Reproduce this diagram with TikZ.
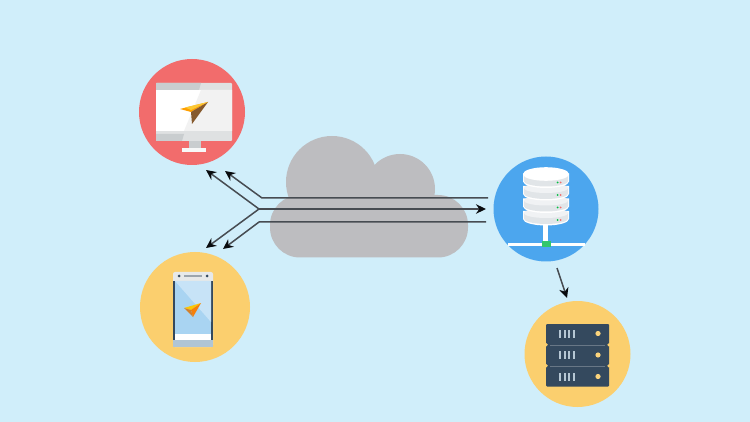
\documentclass[tikz,border=0pt]{standalone}
\usepackage{xcolor}
\usetikzlibrary{arrows.meta}
\definecolor{skycolor}{HTML}{D0EEFA}
\definecolor{cloudcolor}{HTML}{BDBDC0}
\definecolor{redcolor}{HTML}{F26C6C}
\definecolor{yellowcolor}{HTML}{FBCF6E}
\definecolor{bluecolor}{HTML}{4CA6EE}
\definecolor{navycolor}{HTML}{34495E}
\definecolor{wirecolor}{HTML}{474C52}
\definecolor{bezelcolor}{HTML}{C9CDCF}
\definecolor{discolor}{HTML}{E1E5E8}
\definecolor{screencolor}{HTML}{A9D4F2}
\tikzstyle{badge} = [
    circle,
    inner sep=0pt,
    minimum size=106pt
    ]
\tikzstyle{wire} = [
    draw=wirecolor,
    line width=1.5pt,
    line join=round
    ]
\tikzstyle{wirehead} = [
    wire,
    -{Stealth[length=10pt,width=9.5pt,color=black!85!navycolor]}
    ]

\begin{document}
\begin{tikzpicture}[x=1pt,y=-1pt]
\path[use as bounding box,fill=skycolor] (0,0) rectangle (750,422);

% cloud
\fill[cloudcolor] (332,182) circle (46);
\fill[cloudcolor] (400,189) circle (35);
\fill[cloudcolor,rounded corners=30pt] (270,195) rectangle (468,257.5);

% round badges
\node[badge,fill=redcolor] (desktop) at (192,112) {};
\node[badge,fill=yellowcolor,minimum size=110pt] (phone) at (195,307) {};
\node[badge,fill=bluecolor,minimum size=105pt] (database) at (546,209) {};
\node[badge,fill=yellowcolor] (rack) at (577.5,354) {};

% desktop screen
\fill[bezelcolor!60!white,rounded corners=1pt] (156,83) rectangle (232,141);
\fill[bezelcolor] (156,83) -- (201,83) -- (199,90) -- (156,90) -- cycle;
\fill[white] (156,90) rectangle (232,131);
\fill[black!5] (201,90) -- (232,90) -- (232,131) -- (184,131) -- cycle;
\fill[bezelcolor] (156,134) -- (184,134) -- (182,141) -- (156,141) -- cycle;
\fill[bezelcolor] (189,141) rectangle (201,148);
\fill[white!85!bezelcolor] (182,148) rectangle (206,152);
% desktop logo
\fill[orange!75!yellow] (208,102) -- (180,109) -- (191,112) -- cycle;
\fill[brown!70!black] (208,102) -- (191,112) -- (192,124) -- cycle;
\fill[yellow!50!orange!80!white] (208,102) -- (185,107.5) -- (191,110) -- cycle;

% phone body
\fill[white!55!bezelcolor,rounded corners=2pt] (173,272) rectangle (213,347);
\fill[navycolor] (173,281) rectangle (213,340);
\fill[screencolor] (175,281) rectangle (211,334);
\fill[screencolor!65!white] (175,281) -- (211,281) -- (211,322) -- cycle;
\fill[white] (175,334) rectangle (211,340);
\fill[bezelcolor!80!bluecolor] (173,340) rectangle (213,347);
\fill[navycolor] (179,276) circle (1.5) (207,276) circle (1.5);
\fill[bezelcolor!70!navycolor] (184,275) rectangle (202,277);
% phone logo
\fill[yellow!60!orange] (201,303) -- (184,308) -- (191,310) -- cycle;
\fill[orange!85!brown] (201,303) -- (191,310) -- (193,317) -- cycle;
\fill[brown!70!orange] (184,308) -- (191,310) -- (193,317) -- cycle;

% database stack
\fill[white] (543,225) rectangle (548,243);
\fill[white] (508,243) rectangle (585,246);
\fill[green!45!teal!80!white] (541.5,241.5) rectangle (551,247);
\foreach \y in {212,199.5,187,174.5}{
    \fill[white] (523,\y-1) -- (523,\y+7) arc[start angle=180,end angle=0,x radius=23,y radius=6.5] -- (569,\y-1) -- cycle;
    \fill[discolor] (523.8,\y+1) -- (523.8,\y+6.5) arc[start angle=180,end angle=0,x radius=22.2,y radius=5.5] -- (568.2,\y+1) -- cycle;
    \fill[white!50!discolor] (546,\y+1) ellipse (22.2 and 5);
    \fill[green!50!teal] (557.5,\y+8) circle (1);
    \fill[redcolor] (560.5,\y+8) circle (1);
}
\fill[white] (546,174) ellipse (23 and 6.8);

% rack units
\foreach \y/\h in {324/333.5,345/355,366/376.5}{
    \fill[navycolor,rounded corners=1pt] (546,\y) rectangle (609,\y+20.5);
    \fill[yellowcolor!90!white] (598,\h) circle (2.6);
    \foreach \x in {560,564.5,569,573.5}{
        \fill[bezelcolor!85!bluecolor] (\x-1,\h-4) rectangle (\x+1,\h+4);
    }
}
\foreach \y in {344.8,365.8}{
    \fill[navycolor] (546,\y-.5) rectangle (609,\y+.9);
    \fill[navycolor!65!bezelcolor] (550,\y-.1) rectangle (605,\y+.5);
    \fill[yellowcolor] (546,\y) circle (1.8) (609,\y) circle (1.8);
}

% connectors through the cloud
\coordinate (topright) at (488,198);
\coordinate (topbend) at (262,198);
\coordinate (midright) at (486,209);
\coordinate (midbend) at (259,209);
\coordinate (lowright) at (486,222);
\coordinate (lowbend) at (259,222);
\coordinate (deskinner) at (225,171);
\coordinate (deskouter) at (206,170);
\coordinate (phoneinner) at (223,249);
\coordinate (phoneouter) at (206,248);
\coordinate (dbfoot) at (557,268);
\coordinate (rackhead) at (567,298);

\draw[wirehead] (topright) -- (topbend) -- (deskinner);
\draw[wirehead] (midbend) -- (deskouter);
\draw[wirehead] (midbend) -- (phoneouter);
\draw[wirehead] (midbend) -- (midright);
\draw[wirehead] (lowright) -- (lowbend) -- (phoneinner);
\draw[wirehead] (dbfoot) -- (rackhead);
\end{tikzpicture}
\end{document}
